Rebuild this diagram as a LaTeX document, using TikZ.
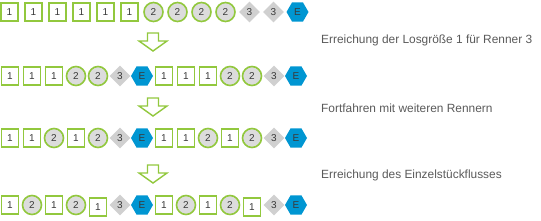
\documentclass[tikz,border=0pt]{standalone}
\usepackage{fontspec}
\setmainfont{Liberation Sans}
\usetikzlibrary{shapes.geometric}
\definecolor{grn}{HTML}{92C83E}
\definecolor{lgray}{HTML}{DCDCDC}
\definecolor{dgray}{HTML}{D0D0D0}
\definecolor{hexblue}{HTML}{0096D2}
\definecolor{txtgray}{HTML}{5A5A5A}
\definecolor{lbl}{HTML}{3A3A3A}
\tikzset{
  elbase/.style={inner sep=0pt, font=\fontsize{10}{10}\selectfont, text=lbl},
  el1/.style={elbase, draw=grn, line width=1.6pt, fill=white, minimum width=17pt, minimum height=18pt},
  el2/.style={elbase, circle, draw=grn, line width=1.6pt, fill=lgray, minimum size=19pt},
  el3/.style={elbase, diamond, fill=dgray, minimum size=21pt},
  elE/.style={elbase, regular polygon, regular polygon sides=6, fill=hexblue, minimum size=22pt},
  blockarrow/.style={draw=grn, line width=1.4pt, fill=white, line join=miter},
  caption/.style={anchor=west, text=txtgray, font=\fontsize{11.9}{12}\selectfont, inner sep=0pt}
}
\begin{document}
\begin{tikzpicture}[x=1pt,y=-1pt]
\useasboundingbox (0,0) rectangle (541,220);
% row 1
\foreach \lb [count=\i] in {1,1,1,1,1,1,2,2,2,2,3,3,E}{
  \node[el\lb] (ra\i) at ({9.5+24*(\i-1)},12) {\lb};
}
% row 2
\foreach \lb [count=\i] in {1,1,1,2,2,3,E,1,1,1,2,2,3,E}{
  \node[el\lb] (rb\i) at ({10+22*(\i-1)},76) {\lb};
}
% row 3
\foreach \lb [count=\i] in {1,1,2,1,2,3,E,1,1,2,1,2,3,E}{
  \node[el\lb] (rc\i) at ({10+22*(\i-1)},138) {\lb};
}
% row 4
\foreach \lb/\dy [count=\i] in {1/0,2/0,1/0,2/0,1/2,3/0,E/0,1/0,2/0,1/0,2/0,1/2,3/0,E/0}{
  \node[el\lb] (rd\i) at ({10+22*(\i-1)},{205+\dy}) {\lb};
}
% block arrows
\foreach \ay [count=\k] in {33,98,165}{
  \coordinate (arr\k) at (153,\ay);
  \draw[blockarrow] (arr\k) ++(-5.5,0) -- ++(11,0) -- ++(0,8) -- ++(8.5,0)
     -- ++(-14,10) -- ++(-14,-10) -- ++(8.5,0) -- cycle;
}
% captions
\node[caption] (ca) at (321,40) {Erreichung der Losgröße 1 für Renner 3};
\node[caption] (cb) at (321,108) {Fortfahren mit weiteren Rennern};
\node[caption] (cc) at (321,175) {Erreichung des Einzelstückflusses};
\end{tikzpicture}
\end{document}
